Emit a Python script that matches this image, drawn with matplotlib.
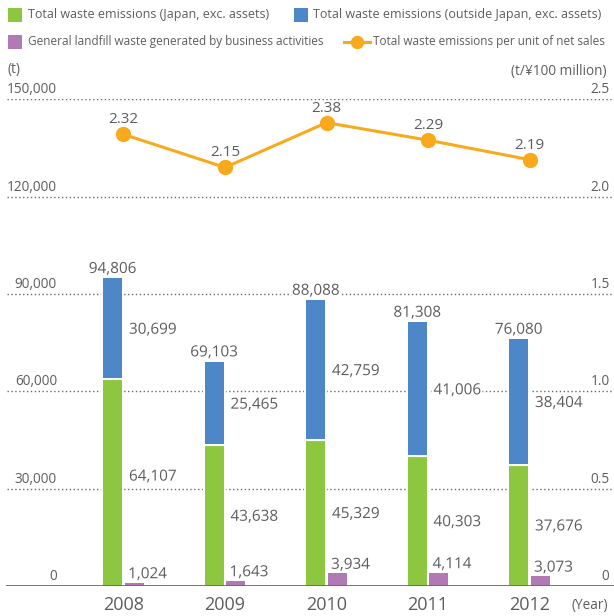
import matplotlib
matplotlib.use('Agg')
import matplotlib.pyplot as plt
import matplotlib.patheffects as pe
from matplotlib.patches import Rectangle
from matplotlib.lines import Line2D
import numpy as np

plt.rcParams['font.family'] = ['Open Sans', 'DejaVu Sans']

# data (t, t/100 million yen)
years = ['2008', '2009', '2010', '2011', '2012']
japan = [64107, 43638, 45329, 40303, 37676]
outside = [30699, 25465, 42759, 41006, 38404]
totals = [94806, 69103, 88088, 81308, 76080]
landfill = [1024, 1643, 3934, 4114, 3073]
per_sales = [2.32, 2.15, 2.38, 2.29, 2.19]
left_ticks = [0, 30000, 60000, 90000, 120000, 150000]
right_ticks = [0, 0.5, 1.0, 1.5, 2.0, 2.5]

GREEN = '#8DC63F'
BLUE = '#4D87C7'
PURPLE = '#B27AB5'
ORANGE = '#F8AA1D'
TXT = '#5d5d5d'

W, H = 614, 616
fig = plt.figure(figsize=(W / 100, H / 100), dpi=100)


def fx(px):
    return px / W


def fy(py):
    return 1 - py / H


ax = fig.add_axes([0, 30 / H, 1, 486.7 / H])
ax.set_xlim(-123.5 / 101.5, (W - 123.5) / 101.5)
ax.set_ylim(0, 150000)
ax.set_axis_off()

x = np.arange(len(years))
bw = 0.187
off = 0.108
halo = [pe.Stroke(linewidth=3, foreground='white'), pe.Normal()]
txt_halo = [pe.withStroke(linewidth=3, foreground='white')]

# grid
for v in left_ticks[1:]:
    ax.axhline(v, xmin=7 / W, xmax=613 / W, color='#6a6a6a', lw=1.0,
               ls=(0, (1, 1.8)), zorder=1)
ax.axhline(0, xmin=7 / W, xmax=1, color='#6b6b6b', lw=1.3, zorder=4)

g = ax.bar(x - off, japan, bw, color=GREEN, zorder=3)
b = ax.bar(x - off, outside, bw, bottom=japan, color=BLUE, zorder=3)
p = ax.bar(x + off, landfill, bw, color=PURPLE, zorder=3)
for bars in (g, b, p):
    for r in bars:
        r.set_path_effects(halo)

# tick labels
for v in left_ticks:
    ax.annotate(f'{v:,}', xy=(57 / W, v), xycoords=ax.get_yaxis_transform(),
                xytext=(0, 4.3), textcoords='offset points', ha='right',
                va='baseline', fontsize=9.8, color=TXT)

ax2 = ax.twinx()
ax2.set_ylim(0, 2.5)
ax2.set_axis_off()
for v in right_ticks:
    lab = '0' if v == 0 else f'{v:.1f}'
    ax2.annotate(lab, xy=(609.5 / W, v), xycoords=ax2.get_yaxis_transform(),
                 xytext=(0, 4.3), textcoords='offset points', ha='right',
                 va='baseline', fontsize=9.8, color=TXT)

# value labels
green_nudge = [5, 0, 0, 0, 0]
for i in x:
    ax.annotate(f'{totals[i]:,}', xy=(i - off, totals[i]), xytext=(0, 3.9),
                textcoords='offset points', ha='center', va='baseline',
                fontsize=11, color=TXT, path_effects=txt_halo, zorder=6)
    ax.annotate(f'{outside[i]:,}', xy=(i + 0.054, japan[i] + outside[i] / 2),
                xytext=(0, -4), textcoords='offset points', ha='left', va='baseline',
                fontsize=11, color=TXT, path_effects=txt_halo, zorder=6)
    ax.annotate(f'{japan[i]:,}', xy=(i + 0.054, japan[i] / 2),
                xytext=(0, -4 + green_nudge[i]), textcoords='offset points',
                ha='left', va='baseline',
                fontsize=11, color=TXT, path_effects=txt_halo, zorder=6)
    ax.annotate(f'{landfill[i]:,}', xy=(i + 0.045, landfill[i]), xytext=(0, 3.2),
                textcoords='offset points', ha='left', va='baseline',
                fontsize=11, color=TXT, path_effects=txt_halo, zorder=6)
    ax.annotate(years[i], xy=(i, 0), xytext=(0, -14), textcoords='offset points',
                ha='center', va='center', fontsize=13, color=TXT)

ax2.plot(x, per_sales, color=ORANGE, lw=2.2, marker='o', ms=10, zorder=5)
for i in x:
    ax2.annotate(f'{per_sales[i]:.2f}', xy=(i, per_sales[i]), xytext=(0, 8),
                 textcoords='offset points', ha='center', va='baseline',
                 fontsize=11, color=TXT)

fig.text(fx(608), fy(605.5), '(Year)', ha='right', va='center', fontsize=9.8, color=TXT)
fig.text(fx(8), fy(69), '(t)', ha='left', va='center', fontsize=9.8, color=TXT)
fig.text(fx(607), fy(71), '(t/¥100 million)', ha='right', va='center',
         fontsize=9.8, color=TXT)

# legend
def square(px, py, color):
    fig.add_artist(Rectangle((fx(px), fy(py + 7)), 14 / W, 14 / H,
                             transform=fig.transFigure, color=color, lw=0))


square(8, 14.5, GREEN)
fig.text(fx(28), fy(14.5), 'Total waste emissions (Japan, exc. assets)',
         ha='left', va='center', fontsize=9, color=TXT)
square(294, 14.5, BLUE)
fig.text(fx(313), fy(14.5), 'Total waste emissions (outside Japan, exc. assets)',
         ha='left', va='center', fontsize=9, color=TXT)
square(8, 42, PURPLE)
fig.text(fx(28), fy(42), 'General landfill waste generated by business activities',
         ha='left', va='center', fontsize=8.5, color=TXT)
fig.add_artist(Line2D([fx(344), fx(370)], [fy(42), fy(42)], color=ORANGE, lw=2.2,
                      transform=fig.transFigure))
fig.add_artist(Line2D([fx(357)], [fy(42)], color=ORANGE, marker='o', ms=8.6,
                      transform=fig.transFigure))
fig.text(fx(373), fy(42), 'Total waste emissions per unit of net sales',
         ha='left', va='center', fontsize=8.5, color=TXT)

fig.savefig('out.png', dpi=100)
